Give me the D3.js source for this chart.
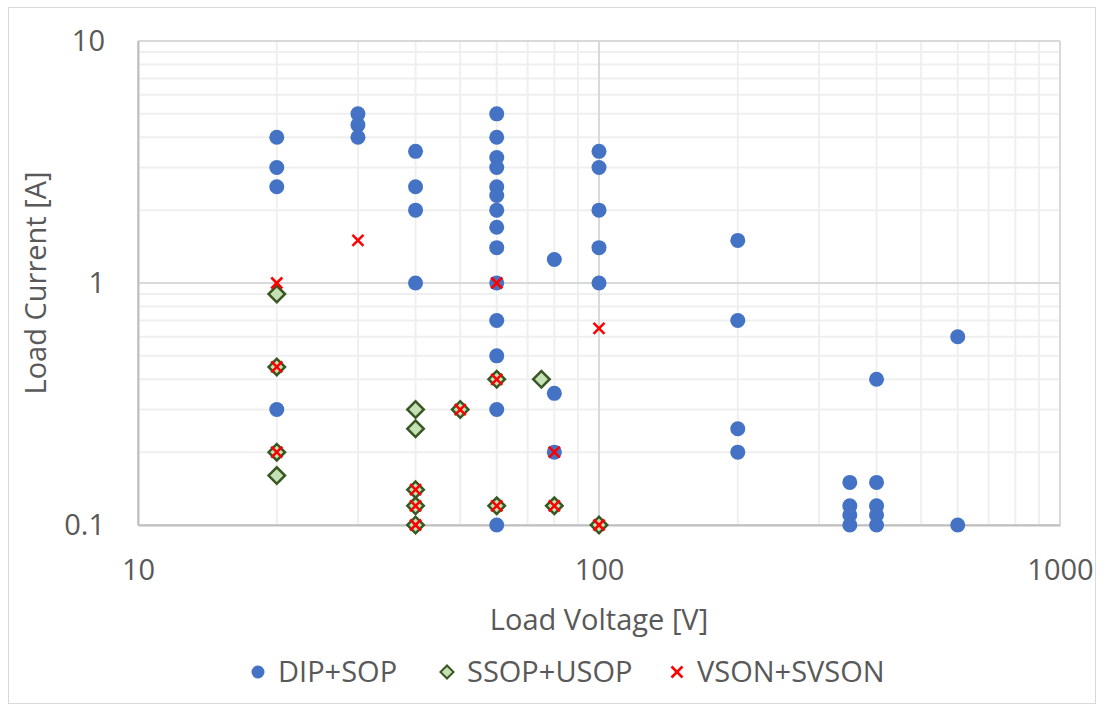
<!DOCTYPE html>
<html>
  <head>
    <meta charset="utf-8">
    <title>Load Voltage vs Load Current</title>
    <script src="https://d3js.org/d3.v7.min.js"></script>
    <style>
      body { margin: 0; background: #fff; }
      text { font-family: "Open Sans", sans-serif; fill: #595959; }
    </style>
  </head>
  <body>
    <div id="chart"></div>
  </body>
  <script>
  // DIP+SOP
  var dipV = [20, 20, 20, 20, 30, 30, 30, 40, 40, 40, 40,
              60, 60, 60, 60, 60, 60, 60, 60, 60, 60, 60, 60, 60, 60,
              80, 80, 80, 100, 100, 100, 100, 100, 200, 200, 200, 200,
              350, 350, 350, 350, 400, 400, 400, 400, 400, 600, 600];
  var dipI = [4, 3, 2.5, 0.3, 5, 4.5, 4, 3.5, 2.5, 2, 1,
              5, 4, 3.3, 3, 2.5, 2.3, 2, 1.7, 1.4, 1, 0.7, 0.5, 0.3, 0.1,
              1.25, 0.35, 0.2, 3.5, 3, 2, 1.4, 1, 1.5, 0.7, 0.25, 0.2,
              0.15, 0.12, 0.11, 0.1, 0.4, 0.15, 0.12, 0.11, 0.1, 0.6, 0.1];
  // SSOP+USOP
  var ssopV = [20, 20, 20, 20, 40, 40, 40, 40, 40, 50, 60, 60, 75, 80, 100];
  var ssopI = [0.9, 0.45, 0.2, 0.16, 0.3, 0.25, 0.14, 0.12, 0.1, 0.3, 0.4, 0.12, 0.4, 0.12, 0.1];
  // VSON+SVSON
  var vsonV = [20, 20, 20, 30, 40, 40, 40, 50, 60, 60, 60, 80, 80, 100, 100];
  var vsonI = [1, 0.45, 0.2, 1.5, 0.14, 0.12, 0.1, 0.3, 1, 0.4, 0.12, 0.2, 0.12, 0.65, 0.1];

  var xTicks = [10, 100, 1000];
  var yTicks = [0.1, 1, 10];
  var seriesNames = ["DIP+SOP", "SSOP+USOP", "VSON+SVSON"];

  var W = 1105, H = 711;
  var pLeft = 138, pRight = 1060, pTop = 41, pBottom = 525;

  var svg = d3.select('#chart')
      .append("svg")
      .attr("width", W)
      .attr("height", H);

  // outer chart border
  svg.append("rect")
      .attr("x", 8.5).attr("y", 7.5)
      .attr("width", 1087).attr("height", 696)
      .attr("fill", "#fff")
      .attr("stroke", "#d9d9d9");

  var x = d3.scaleLog().domain([10, 1000]).range([pLeft, pRight]);
  var y = d3.scaleLog().domain([0.1, 10]).range([pBottom, pTop]);

  // minor grid values (2..9 within each decade)
  var xMinor = [], yMinor = [];
  [10, 100].forEach(function(d) {
    for (var k = 2; k <= 9; k++) xMinor.push(d * k);
  });
  [0.1, 1].forEach(function(d) {
    for (var k = 2; k <= 9; k++) yMinor.push(+(d * k).toFixed(2));
  });

  var grid = svg.append("g");
  grid.selectAll(".xminor").data(xMinor).enter().append("line")
      .attr("x1", d => x(d)).attr("x2", d => x(d))
      .attr("y1", pTop).attr("y2", pBottom)
      .attr("stroke", "#efefef").attr("stroke-width", 2);
  grid.selectAll(".yminor").data(yMinor).enter().append("line")
      .attr("y1", d => y(d)).attr("y2", d => y(d))
      .attr("x1", pLeft).attr("x2", pRight)
      .attr("stroke", "#efefef").attr("stroke-width", 2);
  grid.selectAll(".xmajor").data(xTicks).enter().append("line")
      .attr("x1", d => x(d)).attr("x2", d => x(d))
      .attr("y1", pTop).attr("y2", pBottom)
      .attr("stroke", "#d9d9d9").attr("stroke-width", 2);
  grid.selectAll(".ymajor").data(yTicks).enter().append("line")
      .attr("y1", d => y(d)).attr("y2", d => y(d))
      .attr("x1", pLeft).attr("x2", pRight)
      .attr("stroke", "#d9d9d9").attr("stroke-width", 2);

  // axes
  var xAxis = d3.axisBottom(x).tickValues(xTicks).tickSize(0).tickPadding(34)
      .tickFormat(d3.format("d"));
  var yAxis = d3.axisLeft(y).tickValues(yTicks).tickSize(0).tickPadding(33)
      .tickFormat(d => d < 1 ? d.toFixed(1) : d3.format("d")(d));

  var gx = svg.append("g").attr("transform", "translate(0," + pBottom + ")").call(xAxis);
  var gy = svg.append("g").attr("transform", "translate(" + pLeft + ",0)").call(yAxis);
  [gx, gy].forEach(function(g) {
    g.select(".domain").attr("stroke", "#bfbfbf").attr("stroke-width", 2);
    g.selectAll("text").style("font-size", "29px").attr("fill", "#595959")
      .style("font-family", "'Open Sans', sans-serif");
  });

  // axis titles
  svg.append("text")
      .attr("x", (pLeft + pRight) / 2).attr("y", 630)
      .attr("text-anchor", "middle")
      .style("font-size", "29px")
      .text("Load Voltage [V]");
  svg.append("text")
      .attr("transform", "translate(46," + ((pTop + pBottom) / 2) + ") rotate(-90)")
      .attr("text-anchor", "middle")
      .style("font-size", "29px")
      .text("Load Current [A]");

  // markers
  function zip(a, b) { return a.map((v, i) => [v, b[i]]); }

  var plot = svg.append("g");
  plot.selectAll(".dip").data(zip(dipV, dipI)).enter().append("circle")
      .attr("cx", d => x(d[0])).attr("cy", d => y(d[1]))
      .attr("r", 7.5).attr("fill", "#4472c4");

  var diamond = d3.symbol().type(d3.symbolSquare).size(135);
  plot.selectAll(".ssop").data(zip(ssopV, ssopI)).enter().append("path")
      .attr("d", diamond)
      .attr("transform", d => "translate(" + x(d[0]) + "," + y(d[1]) + ") rotate(45)")
      .attr("fill", "#c5e0b4").attr("stroke", "#385723").attr("stroke-width", 2.5);

  function cross(g) {
    g.append("line").attr("x1", -5.5).attr("y1", -5.5).attr("x2", 5.5).attr("y2", 5.5);
    g.append("line").attr("x1", -5.5).attr("y1", 5.5).attr("x2", 5.5).attr("y2", -5.5);
    g.attr("stroke", "#ff0000").attr("stroke-width", 2.5);
  }
  plot.selectAll(".vson").data(zip(vsonV, vsonI)).enter().append("g")
      .attr("transform", d => "translate(" + x(d[0]) + "," + y(d[1]) + ")")
      .each(function() { cross(d3.select(this)); });

  // legend
  var legendX = [258, 447, 677];
  var lg = svg.append("g").attr("transform", "translate(0,672)");
  lg.append("circle").attr("cx", legendX[0]).attr("cy", 0).attr("r", 6.5).attr("fill", "#4472c4");
  lg.append("path").attr("d", d3.symbol().type(d3.symbolSquare).size(85))
      .attr("transform", "translate(" + legendX[1] + ",0) rotate(45)")
      .attr("fill", "#c5e0b4").attr("stroke", "#385723").attr("stroke-width", 2);
  var lx = lg.append("g").attr("transform", "translate(" + legendX[2] + ",0)");
  cross(lx);
  lg.selectAll(".lt").data(seriesNames).enter().append("text")
      .attr("x", (d, i) => legendX[i] + 20).attr("y", 0).attr("dy", "0.35em")
      .style("font-size", "29px")
      .text(d => d);
  </script>
</html>
